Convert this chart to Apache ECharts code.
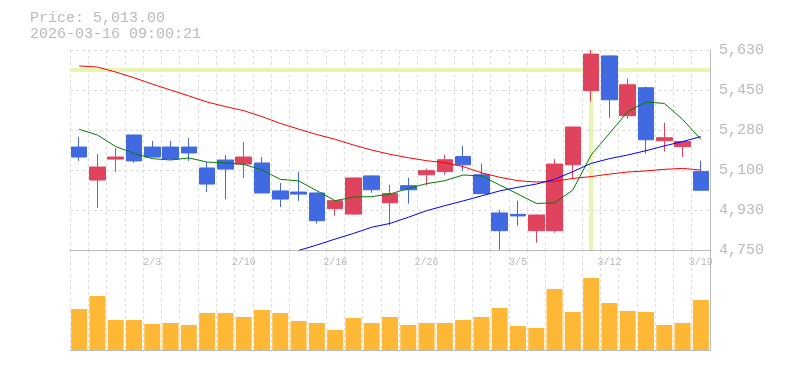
<!DOCTYPE html>
<html>
<head>
<meta charset="utf-8">
<script src="https://cdn.jsdelivr.net/npm/echarts@6/dist/echarts.min.js"></script>
<style>html,body{margin:0;padding:0;background:#fff;}#c{width:785px;height:370px;}</style>
</head>
<body>
<div id="c"></div>
<script>
const priceLabel = 'Price: 5,013.00';
const timeLabel = '2026-03-16 09:00:21';
const dates = ['1/28','1/29','1/30','2/2','2/3','2/4','2/5','2/6','2/9','2/10','2/12','2/13','2/16','2/17','2/18','2/19','2/20','2/24','2/25','2/26','2/27','3/2','3/3','3/4','3/5','3/6','3/9','3/10','3/11','3/12','3/13','3/16','3/17','3/18','3/19'];
// [open, close, low, high]
const ohlc = [
  [5203,5159,5142,5247],[5058,5115,4935,5172],[5150,5159,5093,5199],[5256,5142,5133,5258],
  [5203,5159,5157,5230],[5203,5150,5148,5230],[5203,5177,5142,5243],[5111,5040,5005,5137],
  [5146,5106,4974,5168],[5128,5159,5067,5225],[5133,5001,4999,5159],[5010,4974,4939,5045],
  [5005,4996,4966,5093],[5001,4879,4866,5003],[4932,4967,4901,4970],[4908,5067,4906,5069],
  [5076,5015,5002,5078],[4958,4998,4857,5037],[5033,5015,4954,5068],[5081,5099,5033,5108],
  [5095,5147,5081,5169],[5161,5125,5099,5209],[5081,4998,4996,5130],[4913,4835,4752,4927],
  [4907,4900,4857,4967],[4835,4904,4782,4906],[4835,5128,4826,5150],[5125,5291,5065,5293],
  [5451,5612,5403,5630],[5604,5411,5332,5606],[5341,5477,5328,5504],[5464,5235,5174,5469],
  [5231,5244,5183,5310],[5205,5227,5160,5229],[5095,5013,5011,5143]
];
const maShort = [5281,5256,5205,5175,5152,5146,5155,5137,5133,5127,5102,5061,5054,5011,4967,4983,4985,4996,5021,5042,5055,5080,5076,5036,4996,4955,4957,5014,5168,5263,5359,5401,5395,5325,5237];
const maMid = [5560,5555,5533,5508,5480,5454,5428,5401,5381,5363,5337,5307,5282,5258,5237,5212,5190,5171,5156,5143,5134,5117,5090,5070,5055,5049,5052,5065,5073,5084,5093,5098,5105,5109,5102];
const maLong = [null,null,null,null,null,null,null,null,null,null,null,null,4748,4772,4798,4823,4850,4867,4894,4923,4945,4966,4988,5010,5026,5040,5061,5095,5131,5152,5168,5187,5208,5227,5249];
const volume = [41,54,30,30,26,27,25,37,37,33,40,37,29,27,20,32,27,33,25,27,27,30,33,42,24,22,61,38,72,47,39,38,25,27,50];
const yTickLabels = ['4,750','4,930','5,100','5,280','5,450','5,630'];
const yMin = 4750, yMax = 5630;
const markPrice = 5542;
const markDate = '3/11';

const FONT = "'Liberation Mono', monospace";
const GRAY = '#bbbbbb';
const UP = '#e0435e', DOWN = '#4169e1';

const chart = echarts.init(document.getElementById('c'), null, {renderer: 'canvas'});
chart.setOption({
  animation: false,
  backgroundColor: '#fff',
  title: {
    left: 30, top: 10, padding: 0,
    text: priceLabel + '\n' + timeLabel,
    textStyle: {fontFamily: FONT, fontSize: 15, fontWeight: 'normal', color: GRAY, lineHeight: 16}
  },
  grid: [
    {left: 70, right: 75, top: 50, height: 200},
    {left: 70, right: 75, top: 250, height: 100}
  ],
  xAxis: [
    {
      type: 'category', gridIndex: 0, data: dates, boundaryGap: true,
      axisLine: {show: true, lineStyle: {color: GRAY, width: 1}},
      axisTick: {show: false},
      axisLabel: {
        interval: (i) => i % 5 === 4, margin: 7,
        color: GRAY, fontFamily: FONT, fontSize: 10
      },
      splitLine: {show: true, interval: 0, lineStyle: {color: '#dddddd', type: [3, 3], width: 1}}
    },
    {
      type: 'category', gridIndex: 1, data: dates, boundaryGap: true,
      axisLine: {show: true, lineStyle: {color: GRAY, width: 1}},
      axisTick: {show: false},
      axisLabel: {show: false},
      splitLine: {show: true, interval: 0, lineStyle: {color: '#dddddd', type: [3, 3], width: 1}}
    }
  ],
  yAxis: [
    {
      type: 'value', gridIndex: 0, min: yMin, max: yMax, position: 'right',
      axisLine: {show: false}, axisTick: {show: false}, axisLabel: {show: false}, splitLine: {show: false}
    },
    {
      type: 'value', gridIndex: 0, min: 0, max: yTickLabels.length - 1, interval: 1, position: 'right',
      axisLine: {show: true, lineStyle: {color: GRAY, width: 1}},
      axisTick: {show: false},
      axisLabel: {
        margin: 9, color: GRAY, fontFamily: FONT, fontSize: 15, padding: [4, 0, 0, 0],
        formatter: (v) => yTickLabels[Math.round(v)]
      },
      splitLine: {show: true, lineStyle: {color: '#dddddd', type: [3, 3], width: 1}}
    },
    {
      type: 'value', gridIndex: 1, min: 0, max: 100, position: 'right',
      axisLine: {show: true, lineStyle: {color: GRAY, width: 1}},
      axisTick: {show: false}, axisLabel: {show: false}, splitLine: {show: false}
    }
  ],
  series: [
    {
      type: 'line', xAxisIndex: 0, yAxisIndex: 0, data: [], z: 1, silent: true,
      markLine: {
        silent: true, symbol: 'none', label: {show: false}, animation: false, z: 1,
        lineStyle: {color: '#e6f5b0', width: 4, type: 'solid'},
        data: [{yAxis: markPrice}, {xAxis: markDate}]
      }
    },
    {
      type: 'candlestick', xAxisIndex: 0, yAxisIndex: 0, data: ohlc, barWidth: 16, z: 3,
      itemStyle: {color: UP, color0: DOWN, borderColor: UP, borderColor0: DOWN, borderWidth: 1}
    },
    {
      type: 'line', xAxisIndex: 0, yAxisIndex: 0, data: maMid, symbol: 'none', z: 4,
      lineStyle: {color: '#ff0000', width: 1}
    },
    {
      type: 'line', xAxisIndex: 0, yAxisIndex: 0, data: maShort, symbol: 'none', z: 4,
      lineStyle: {color: '#008000', width: 1}
    },
    {
      type: 'line', xAxisIndex: 0, yAxisIndex: 0, data: maLong, symbol: 'none', z: 4,
      lineStyle: {color: '#0000ff', width: 1}
    },
    {
      type: 'bar', xAxisIndex: 1, yAxisIndex: 2, data: volume, barWidth: 16,
      itemStyle: {color: '#ffb835'}
    }
  ]
});
</script>
</body>
</html>
